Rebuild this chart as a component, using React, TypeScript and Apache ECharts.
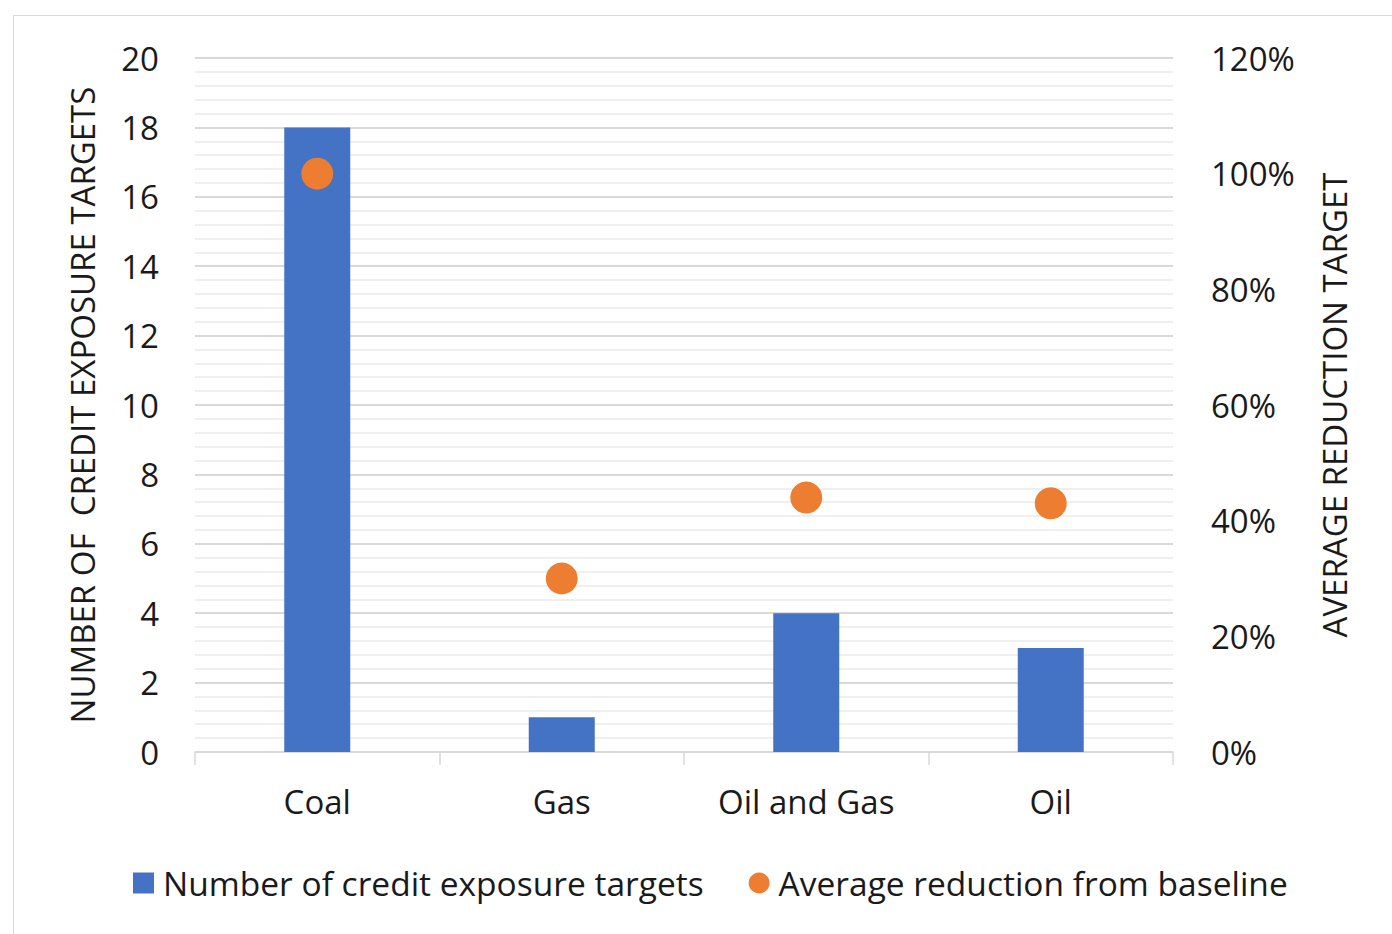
import React, { useEffect, useRef } from "react";
import * as echarts from "echarts";

const categories = ["Coal", "Gas", "Oil and Gas", "Oil"];
const targetCounts = [18, 1, 4, 3];
const avgReduction = [100, 30, 44, 43];
const leftTitle = "NUMBER OF  CREDIT EXPOSURE TARGETS";
const rightTitle = "AVERAGE REDUCTION TARGET";
const seriesNames = ["Number of credit exposure targets", "Average reduction from baseline"];

const FONT = "'Open Sans', 'Noto Sans', sans-serif";
const TXT = "#1a1a1a";

export default function App() {
  const ref = useRef<HTMLDivElement>(null);
  useEffect(() => {
    if (!ref.current) return;
    const chart = echarts.init(ref.current, undefined, { renderer: "svg" });
    chart.setOption({
      animation: false,
      textStyle: { fontFamily: FONT, color: TXT },
      grid: { left: 195, right: 219, top: 58, bottom: 182 },
      legend: {
        left: 128,
        top: 861,
        itemWidth: 21,
        itemHeight: 21,
        itemGap: 45,
        textStyle: { fontFamily: FONT, fontSize: 33.5, color: TXT, padding: [0, 0, 0, 4] },
        data: [
          { name: seriesNames[0], icon: "rect" },
          { name: seriesNames[1], icon: "circle" },
        ],
      },
      xAxis: {
        type: "category",
        data: categories,
        axisLine: { show: true, lineStyle: { color: "#d9d9d9", width: 1.5 } },
        axisTick: { show: true, length: 13, lineStyle: { color: "#d9d9d9", width: 1.5 } },
        axisLabel: { fontSize: 33, color: TXT, margin: 33, fontFamily: FONT },
      },
      yAxis: [
        {
          type: "value",
          min: 0,
          max: 20,
          interval: 2,
          name: leftTitle,
          nameLocation: "middle",
          nameGap: 96,
          nameTextStyle: { fontSize: 33, color: TXT, fontFamily: FONT },
          axisLabel: { fontSize: 33, color: TXT, margin: 36, fontFamily: FONT },
          axisLine: { show: false },
          axisTick: { show: false },
          splitLine: { show: true, lineStyle: { color: "#d9d9d9", width: 2 } },
          minorTick: { show: false, splitNumber: 5 },
          minorSplitLine: { show: true, lineStyle: { color: "#efefef", width: 2 } },
        },
        {
          type: "value",
          min: 0,
          max: 120,
          interval: 20,
          name: rightTitle,
          nameLocation: "middle",
          nameGap: 145,
          nameTextStyle: { fontSize: 33, color: TXT, fontFamily: FONT },
          axisLabel: { fontSize: 33, color: TXT, margin: 38, formatter: "{value}%", fontFamily: FONT },
          axisLine: { show: false },
          axisTick: { show: false },
          splitLine: { show: false },
        },
      ],
      series: [
        {
          name: seriesNames[0],
          type: "bar",
          data: targetCounts,
          barWidth: 66,
          itemStyle: { color: "#4472C4" },
          yAxisIndex: 0,
        },
        {
          name: seriesNames[1],
          type: "scatter",
          data: avgReduction,
          symbol: "circle",
          symbolSize: 32,
          itemStyle: { color: "#ED7D31", opacity: 1 },
          yAxisIndex: 1,
        },
      ],
    });
    return () => chart.dispose();
  }, []);
  return (
    <div style={{ position: "fixed", left: 0, top: 0, width: 1392, height: 934, background: "#fff", overflow: "hidden" }}>
      <div style={{ position: "absolute", left: 13, top: 15, width: 1400, height: 940, border: "1.5px solid #d9d9d9", boxSizing: "border-box" }} />
      <div ref={ref} style={{ position: "absolute", left: 0, top: 0, width: 1392, height: 934 }} />
    </div>
  );
}
